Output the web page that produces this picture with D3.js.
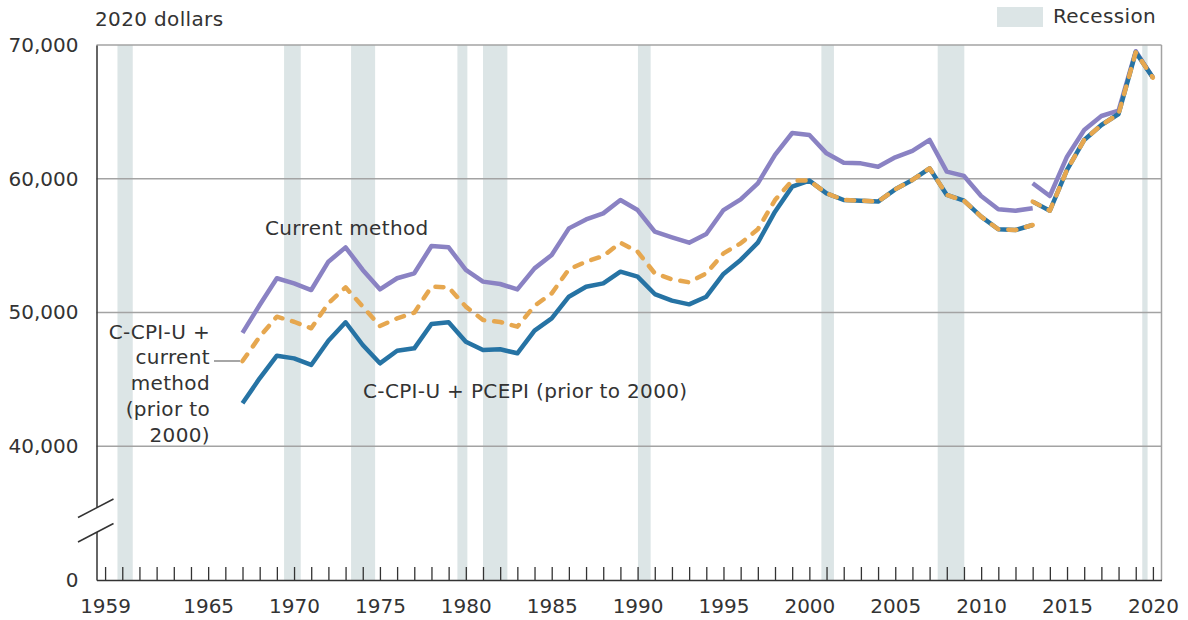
<!DOCTYPE html>
<html>
<head>
<meta charset="utf-8">
<script src="https://cdn.jsdelivr.net/npm/d3@7"></script>
<style>
  html, body { margin: 0; padding: 0; background: #fff; }
  svg text { font-family: "DejaVu Sans", sans-serif; fill: #333; }
  .ann { letter-spacing: 0.35px; }
</style>
</head>
<body>
<svg id="chart" width="1188" height="620"></svg>
<script>
// ---------- DATA ----------
const years1 = d3.range(1967, 2014);          // 1967..2013 (old series)
const years2 = d3.range(2013, 2021);          // 2013..2020 (new series)

const currentMethod1 = [48480, 50560, 52560, 52180, 51680, 53800, 54870, 53180, 51730, 52560,
  52930, 54970, 54870, 53180, 52310, 52130, 51730, 53300, 54300, 56290,
  56960, 57410, 58410, 57660, 56040, 55620, 55220, 55870, 57660, 58460,
  59660, 61780, 63420, 63270, 61900, 61200, 61150, 60900, 61600, 62080,
  62900, 60530, 60210, 58710, 57720, 57610, 57790];
const currentMethod2 = [59660, 58710, 61650, 63650, 64690, 65090, 69530, 67560];

const ccpiCurrent1 = [46370, 48190, 49690, 49310, 48820, 50690, 51880, 50440, 48990, 49560,
  49990, 51930, 51880, 50440, 49440, 49290, 48940, 50500, 51430, 53230,
  53800, 54220, 55220, 54550, 52930, 52480, 52260, 52930, 54420, 55170,
  56220, 58410, 59860, 59860, 58910, 58410, 58360, 58290, 59210, 59910,
  60780, 58790, 58360, 57170, 56220, 56170, 56540];
const ccpiCurrent2 = [58290, 57610, 60660, 62900, 64020, 64840, 69450, 67560];

const ccpiPce1 = [43210, 45080, 46770, 46570, 46080, 47890, 49270, 47570, 46200, 47140,
  47320, 49140, 49270, 47820, 47200, 47250, 46950, 48650, 49560, 51180,
  51930, 52180, 53050, 52680, 51380, 50890, 50610, 51180, 52880, 53930,
  55220, 57540, 59410, 59860, 58910, 58410, 58360, 58290, 59210, 59910,
  60780, 58790, 58360, 57170, 56220, 56170, 56540];
const ccpiPce2 = [58290, 57610, 60660, 62900, 64020, 64840, 69450, 67560];

const recessionStart = [1959.72, 1969.42, 1973.32, 1979.51, 1981.0, 1990.02, 2000.7, 2007.47, 2019.38];
const recessionEnd   = [1960.61, 1970.39, 1974.72, 1980.09, 1982.42, 1990.76, 2001.43, 2009.02, 2019.69];

const yTickValues = [30000, 40000, 50000, 60000, 70000];
const yTickLabels = ["0", "40,000", "50,000", "60,000", "70,000"];
const yGridValues = [40000, 50000, 60000, 70000];
const xTickYears = d3.range(1959, 2021);
const xLabelYears = [1959, 1965, 1970, 1975, 1980, 1985, 1990, 1995, 2000, 2005, 2010, 2015, 2020];

// ---------- LAYOUT ----------
const svg = d3.select("#chart");
const plotLeft = 96.5, plotRight = 1161.5, plotTop = 45, plotBottom = 580;
const x = d3.scaleLinear().domain([1958.5, 2020.5]).range([plotLeft, plotRight]);
const y = d3.scaleLinear().domain([30000, 70000]).range([plotBottom, plotTop]);

const bandColor = "#dce5e6";
const gridColor = "#a3a3a3";
const axisColor = "#333";

// recession bands
svg.append("g").selectAll("rect")
  .data(recessionStart.map((s, i) => ({ s, e: recessionEnd[i] })))
  .join("rect")
  .attr("x", d => x(d.s))
  .attr("width", d => x(d.e) - x(d.s))
  .attr("y", plotTop)
  .attr("height", plotBottom - plotTop)
  .attr("fill", bandColor);

// gridlines
svg.append("g").selectAll("line")
  .data(yGridValues)
  .join("line")
  .attr("x1", plotLeft).attr("x2", plotRight)
  .attr("y1", d => y(d)).attr("y2", d => y(d))
  .attr("stroke", gridColor).attr("stroke-width", 1.5);

// right border
svg.append("line")
  .attr("x1", plotRight).attr("x2", plotRight).attr("y1", plotTop).attr("y2", plotBottom)
  .attr("stroke", gridColor).attr("stroke-width", 1.5);

// y axis
const yAxis = svg.append("g")
  .attr("transform", `translate(${plotLeft},0)`)
  .call(d3.axisLeft(y).tickValues(yTickValues)
    .tickFormat((d, i) => yTickLabels[i]).tickSize(0).tickPadding(18));
yAxis.select(".domain").attr("stroke", axisColor).attr("stroke-width", 1.5);
yAxis.selectAll("text").style("font-size", "20px").attr("fill", "#333");

// x axis
const xAxis = svg.append("g")
  .attr("transform", `translate(0,${plotBottom})`)
  .call(d3.axisBottom(x).tickValues(xTickYears)
    .tickFormat(d => xLabelYears.includes(d) ? String(d) : "")
    .tickSizeInner(-13).tickSizeOuter(0).tickPadding(19));
xAxis.select(".domain").attr("stroke", axisColor).attr("stroke-width", 1.5);
xAxis.selectAll(".tick line").attr("stroke", axisColor).attr("stroke-width", 1.3);
xAxis.selectAll("text").style("font-size", "20px").attr("fill", "#333");

// axis break
svg.append("rect").attr("x", plotLeft - 2).attr("y", 507).attr("width", 4).attr("height", 25).attr("fill", "#fff");
svg.append("line").attr("x1", 78).attr("y1", 517.5).attr("x2", 113.5).attr("y2", 499)
  .attr("stroke", axisColor).attr("stroke-width", 1.5);
svg.append("line").attr("x1", 78).attr("y1", 542).attr("x2", 113.5).attr("y2", 523.5)
  .attr("stroke", axisColor).attr("stroke-width", 1.5);

// lines
const line = d3.line().x(d => x(d[0])).y(d => y(d[1]));
function seg(yrs, vals) { return yrs.map((yr, i) => [yr, vals[i]]); }

const series = [
  { segs: [seg(years1, currentMethod1), seg(years2, currentMethod2)], color: "#8a82c3", dash: null },
  { segs: [seg(years1, ccpiPce1), seg(years2, ccpiPce2)], color: "#2673a4", dash: null },
  { segs: [seg(years1, ccpiCurrent1), seg(years2, ccpiCurrent2)], color: "#e6a74f", dash: "8,10" }
];
series.forEach(s => {
  s.segs.forEach(pts => {
    svg.append("path")
      .attr("d", line(pts))
      .attr("fill", "none")
      .attr("stroke", s.color)
      .attr("stroke-width", 4.5)
      .attr("stroke-linejoin", "round")
      .attr("stroke-linecap", s.dash ? "round" : "butt")
      .attr("stroke-dasharray", s.dash);
  });
});

// texts
const fs = "20px";
svg.append("text").attr("class", "ann").attr("x", 95).attr("y", 26).style("font-size", fs).text("2020 dollars");
svg.append("rect").attr("x", 997).attr("y", 7).attr("width", 46).attr("height", 20).attr("fill", bandColor);
svg.append("text").attr("class", "ann").attr("x", 1053).attr("y", 23).style("font-size", fs).text("Recession");

svg.append("text").attr("class", "ann").attr("x", 265).attr("y", 235).style("font-size", fs).text("Current method");
svg.append("text").attr("class", "ann").attr("x", 363).attr("y", 398).style("font-size", fs).text("C-CPI-U + PCEPI (prior to 2000)");

const leftLabel = ["C-CPI-U +", "current", "method", "(prior to", "2000)"];
svg.append("g").selectAll("text")
  .data(leftLabel)
  .join("text")
  .attr("class", "ann")
  .attr("x", 210)
  .attr("y", (d, i) => 338.5 + i * 25.8)
  .attr("text-anchor", "end")
  .style("font-size", fs)
  .text(d => d);
svg.append("line").attr("x1", 214).attr("x2", 240).attr("y1", 361).attr("y2", 361)
  .attr("stroke", "#888").attr("stroke-width", 1.5);
</script>
</body>
</html>
